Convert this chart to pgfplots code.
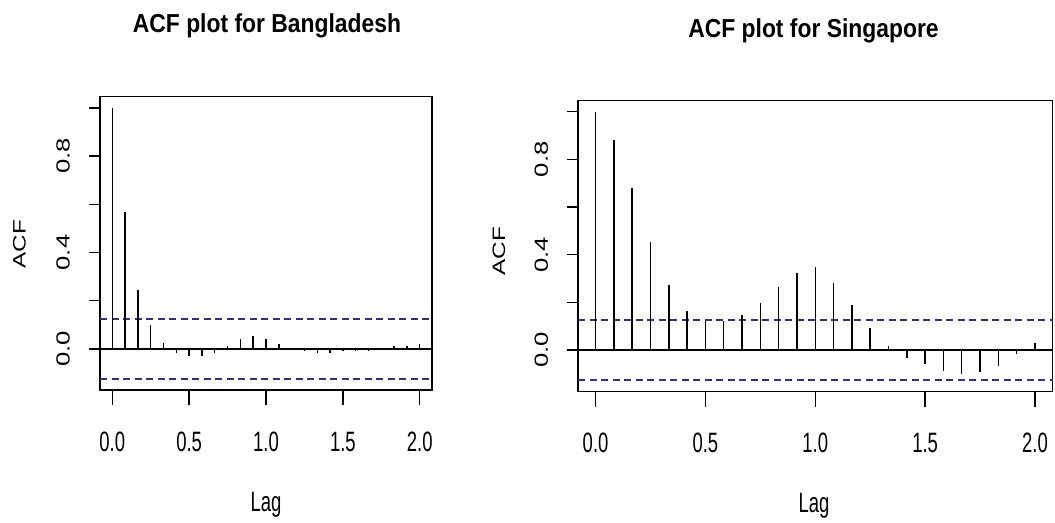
\documentclass[border=0pt]{standalone}
\usepackage{fontspec}
\setmainfont{Liberation Sans}
\newfontfamily\tickfont[FakeStretch=0.66]{Liberation Sans}
\newfontfamily\rotfont[FakeStretch=1.35]{Liberation Sans}
\newfontfamily\titlefont[FakeStretch=0.88]{Liberation Sans}
\usepackage{pgfplots}
\pgfplotsset{compat=1.18}
\definecolor{cicol}{RGB}{50,50,110}

\pgfplotsset{acf/.style={
  scale only axis,
  xmin=-0.08, xmax=2.08,
  axis line style={line width=1.5bp, black},
  tick style={line width=1.4bp, black},
  tick align=outside,
  xtick={0,0.5,1,1.5,2},
  xticklabels={0.0,0.5,1.0,1.5,2.0},
  ytick={0,0.2,0.4,0.6,0.8,1.0},
  yticklabels={0.0,,0.4,,0.8,},
  xtick pos=bottom, ytick pos=left,
  xtick style={/pgfplots/major tick length=15bp},
  ytick style={/pgfplots/major tick length=11bp},
  xticklabel style={font=\tickfont\fontsize{28bp}{28bp}\selectfont, anchor=base, yshift=-57bp},
  yticklabel style={font=\rotfont\fontsize{19bp}{19bp}\selectfont, xshift=-26bp, rotate=90, anchor=base},
  clip=false,
}}

\begin{document}
\begin{tikzpicture}[x=1bp,y=1bp]
\useasboundingbox (0,0) rectangle (1055,523);

% ---------- Bangladesh ----------
\begin{axis}[acf, at={(100bp,133bp)}, anchor=south west,
  width=332bp, height=293.3bp, ymin=-0.171, ymax=1.047]
\addplot[black, line width=1.8bp] coordinates {(-0.08,0) (2.08,0)};
\addplot[cicol, line width=1.8bp, dash pattern=on 7bp off 4.5bp] coordinates {(-0.08,0.124) (2.08,0.124)};
\addplot[cicol, line width=1.8bp, dash pattern=on 7bp off 4.5bp] coordinates {(-0.08,-0.124) (2.08,-0.124)};
\addplot[ycomb, black, line width=1.45bp, mark=none] coordinates {
(0,1.000) (0.08333,0.568) (0.16667,0.244) (0.25,0.099) (0.33333,0.024)
(0.41667,-0.016) (0.5,-0.030) (0.58333,-0.030) (0.66667,-0.018) (0.75,0.011)
(0.83333,0.039) (0.91667,0.053) (1.0,0.039) (1.08333,0.018) (1.16667,0.002)
(1.25,-0.011) (1.33333,-0.018) (1.41667,-0.019) (1.5,-0.011) (1.58333,-0.011)
(1.66667,-0.011) (1.75,-0.002) (1.83333,0.013) (1.91667,0.011) (2.0,0.018)
};
\end{axis}

% ---------- Singapore ----------
\begin{axis}[acf, at={(578bp,131.3bp)}, anchor=south west,
  width=474.5bp, height=291bp, ymin=-0.175, ymax=1.046]
\addplot[black, line width=1.8bp] coordinates {(-0.08,0) (2.08,0)};
\addplot[cicol, line width=1.8bp, dash pattern=on 7bp off 4.5bp] coordinates {(-0.08,0.126) (2.08,0.126)};
\addplot[cicol, line width=1.8bp, dash pattern=on 7bp off 4.5bp] coordinates {(-0.08,-0.126) (2.08,-0.126)};
\addplot[ycomb, black, line width=1.45bp, mark=none] coordinates {
(0,1.000) (0.08333,0.881) (0.16667,0.681) (0.25,0.453) (0.33333,0.271)
(0.41667,0.162) (0.5,0.120) (0.58333,0.120) (0.66667,0.147) (0.75,0.196)
(0.83333,0.266) (0.91667,0.322) (1.0,0.348) (1.08333,0.280) (1.16667,0.189)
(1.25,0.094) (1.33333,0.017) (1.41667,-0.032) (1.5,-0.059) (1.58333,-0.087)
(1.66667,-0.101) (1.75,-0.094) (1.83333,-0.067) (1.91667,-0.018) (2.0,0.031)
};
\end{axis}

% ---------- titles and axis labels ----------
\node[anchor=base, font=\titlefont\bfseries\fontsize{26bp}{26bp}\selectfont] at (267,490) {ACF plot for Bangladesh};
\node[anchor=base, font=\titlefont\bfseries\fontsize{26bp}{26bp}\selectfont] at (813.5,485.3) {ACF plot for Singapore};
\node[anchor=base, font=\tickfont\fontsize{28bp}{28bp}\selectfont] at (266,11.5) {Lag};
\node[anchor=base, font=\tickfont\fontsize{28bp}{28bp}\selectfont] at (814,10) {Lag};
\node[rotate=90, anchor=base, font=\rotfont\fontsize{18bp}{18bp}\selectfont] at (25.5,279) {ACF};
\node[rotate=90, anchor=base, font=\rotfont\fontsize{18bp}{18bp}\selectfont] at (505,272) {ACF};
\end{tikzpicture}
\end{document}
